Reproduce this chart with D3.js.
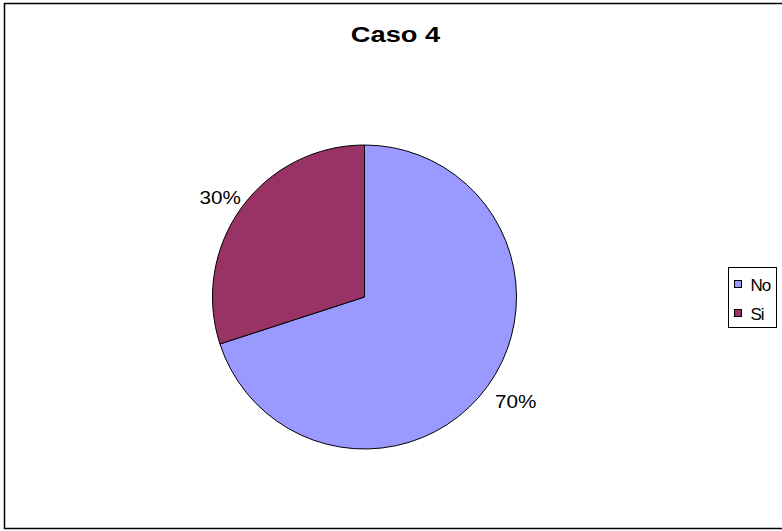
<!DOCTYPE html>
<html>
<head>
<meta charset="utf-8">
<script src="https://cdn.jsdelivr.net/npm/d3@7"></script>
<style>
  html, body { margin: 0; padding: 0; background: #fff; }
  svg { display: block; }
  text { font-family: "Liberation Sans", Arial, sans-serif; }
</style>
</head>
<body>
<script>
// Chart data
const categories = ["No", "Si"];
const values = [70, 30];
const colors = ["#9999FF", "#993366"];
const title = "Caso 4";

const W = 782, H = 531;
const svg = d3.select("body").append("svg").attr("width", W).attr("height", H);

// Outer chart frame
svg.append("rect")
  .attr("x", 4.5).attr("y", 3.5)
  .attr("width", 785).attr("height", 525)
  .attr("fill", "#fff").attr("stroke", "#000").attr("stroke-width", 1.5);

// Title (wide-set bold face)
svg.append("text")
  .attr("transform", "translate(395.5,42) scale(1.24,1)")
  .attr("text-anchor", "middle")
  .attr("font-size", 22).attr("font-weight", "bold")
  .text(title);

// Pie
const cx = 364.5, cy = 297, r = 152;
const pie = d3.pie().sort(null).value(d => d)(values);
const arc = d3.arc().innerRadius(0).outerRadius(r);
const total = d3.sum(values);

const g = svg.append("g").attr("transform", `translate(${cx},${cy})`);
g.selectAll("path.slice").data(pie).join("path")
  .attr("class", "slice")
  .attr("d", arc)
  .attr("fill", (d, i) => colors[i])
  .attr("stroke", "#000").attr("stroke-width", 1);

// Percentage labels: the corner of each label nearest the pie sits on a
// circle just outside it, along the slice's mid-angle
const R = 157;
g.selectAll("text.pct").data(pie).join("text")
  .attr("class", "pct")
  .each(function (d) {
    const a = (d.startAngle + d.endAngle) / 2;
    const dx = Math.sin(a), dy = -Math.cos(a);
    d3.select(this)
      .attr("transform", `translate(${dx * R + 3.5},${dy * R}) scale(1.15,1)`)
      .attr("text-anchor", dx >= 0 ? "start" : "end")
      .attr("dy", dy >= 0 ? "1.05em" : "-0.05em");
  })
  .attr("font-size", 18)
  .text(d => Math.round(d.data / total * 100) + "%");

// Legend
const lx = 728.5, ly = 267.5;
const legend = svg.append("g");
legend.append("rect")
  .attr("x", lx).attr("y", ly).attr("width", 48).attr("height", 60)
  .attr("fill", "#fff").attr("stroke", "#000").attr("stroke-width", 1);
const items = legend.selectAll("g.item").data(categories).join("g")
  .attr("class", "item")
  .attr("transform", (d, i) => `translate(${lx + 6},${ly + 13 + i * 29})`);
items.append("rect")
  .attr("width", 7).attr("height", 7)
  .attr("fill", (d, i) => colors[i])
  .attr("stroke", "#000").attr("stroke-width", 1);
items.append("text")
  .attr("x", 16).attr("y", 10)
  .attr("font-size", 17)
  .attr("letter-spacing", -1)
  .text(d => d);
</script>
</body>
</html>
